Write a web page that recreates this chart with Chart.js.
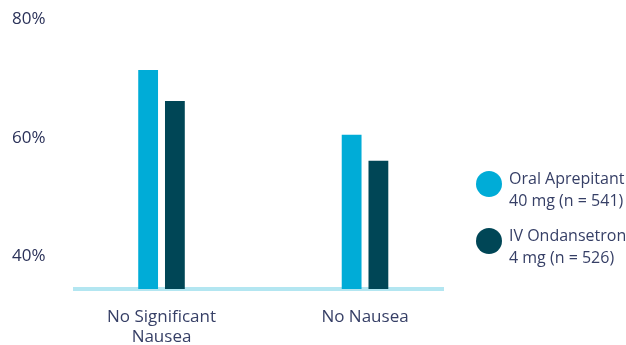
<!DOCTYPE html>
<html>
<head>
<meta charset="utf-8">
<script src="https://cdn.jsdelivr.net/npm/chart.js@4/dist/chart.umd.min.js"></script>
<style>
  body { margin: 0; background: #fff; }
  #wrap { position: relative; width: 626px; height: 345px; }
  #legend { position: absolute; left: 476px; top: 0; font-family: "Open Sans", sans-serif; font-size: 16px; line-height: 22px; color: #363f66; }
  .item { position: absolute; left: 0; }
  .item .dot { position: absolute; left: 0; top: 0; width: 26px; height: 26px; border-radius: 50%; }
  .item .txt { position: absolute; left: 33px; top: -4px; white-space: nowrap; }
</style>
</head>
<body>
<div id="wrap">
  <canvas id="nausea" width="626" height="345"></canvas>
  <div id="legend"></div>
</div>
<script>
// data
const categories = [['No Significant', 'Nausea'], ['No Nausea']];
const oralAprepitant = [71.4, 60.5];
const ivOndansetron = [66.2, 56.1];
const yTicks = [40, 60, 80];
const seriesNames = [['Oral Aprepitant', '40 mg (n = 541)'], ['IV Ondansetron', '4 mg (n = 526)']];
const seriesColors = ['#00acd7', '#004656'];

const toPoints = (arr) => arr.map((v, i) => ({ x: i, y: v }));

const config = {
  type: 'bar',
  data: {
    datasets: [{
      label: seriesNames[0].join(' '),
      backgroundColor: seriesColors[0],
      data: toPoints(oralAprepitant)
    }, {
      label: seriesNames[1].join(' '),
      backgroundColor: seriesColors[1],
      data: toPoints(ivOndansetron)
    }]
  },
  options: {
    responsive: false,
    animation: false,
    categoryPercentage: 0.263,
    barPercentage: 0.74,
    layout: { padding: { left: 12, right: 183, top: 19, bottom: 0 } },
    plugins: { legend: { display: false }, tooltip: { enabled: false } },
    scales: {
      // linear x so the two groups sit off-centre, like the original layout
      x: {
        type: 'linear',
        offset: false,
        min: -0.4251,
        max: 1.3832,
        grid: { display: false },
        border: { display: true, color: '#b3e6f1', width: 4 },
        afterBuildTicks: (scale) => { scale.ticks = categories.map((c, i) => ({ value: i })); },
        afterFit: (scale) => { scale.height = 56; },
        ticks: {
          autoSkip: false,
          maxRotation: 0,
          padding: 10,
          color: '#363f66',
          font: { family: 'Open Sans', size: 17, lineHeight: 1.2 },
          callback: (v) => categories[v]
        }
      },
      y: {
        min: 34.5,
        max: 80,
        grid: { display: false },
        border: { display: false },
        afterBuildTicks: (scale) => { scale.ticks = yTicks.map(v => ({ value: v })); },
        afterFit: (scale) => { scale.width = 63; },
        ticks: {
          crossAlign: 'far',
          color: '#2b3259',
          font: { family: 'Open Sans', size: 17 },
          callback: (v) => v + '%'
        }
      }
    }
  }
};

const nauseaChart = new Chart(document.getElementById('nausea'), config);

// legend
const legend = document.getElementById('legend');
const legendTops = [171, 228];
seriesNames.forEach((lines, i) => {
  const item = document.createElement('div');
  item.className = 'item';
  item.style.top = legendTops[i] + 'px';
  item.innerHTML = '<div class="dot" style="background:' + seriesColors[i] + '"></div>' +
    '<div class="txt">' + lines.join('<br>') + '</div>';
  legend.appendChild(item);
});
</script>
</body>
</html>
